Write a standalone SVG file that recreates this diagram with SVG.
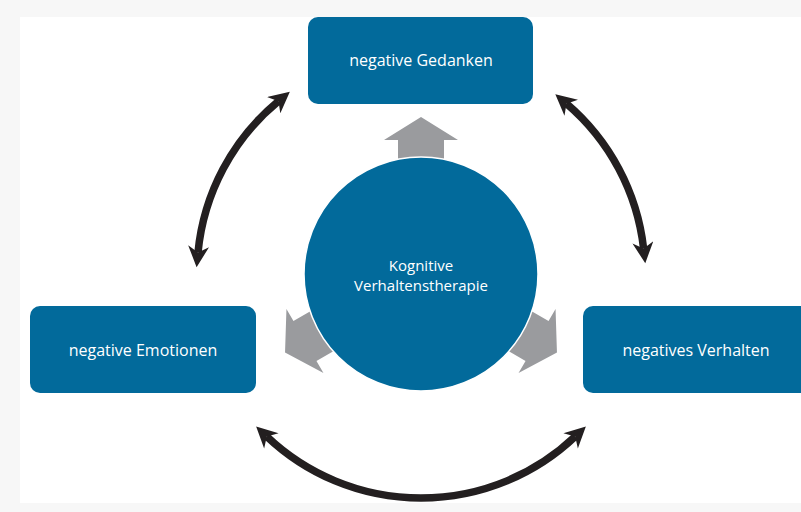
<svg xmlns="http://www.w3.org/2000/svg" width="801" height="512" viewBox="0 0 801 512">
<style>
.box{fill:#026a9b}
.lbl{font-family:"Open Sans","Noto Sans","Liberation Sans",sans-serif;font-size:16px;fill:#ffffff;text-anchor:middle}
.lbl2{font-family:"Open Sans","Noto Sans","Liberation Sans",sans-serif;font-size:15px;fill:#ffffff;text-anchor:middle}
.gray{fill:#9a9b9e}
.conn{fill:none;stroke:#231f20;stroke-width:7.5}
</style>
<defs>
<marker id="ah" viewBox="0 0 10 10" refX="3" refY="5" markerWidth="22" markerHeight="21" markerUnits="userSpaceOnUse" orient="auto-start-reverse">
<polygon points="0,0 10,5 0,10 3,5" fill="#231f20"/>
</marker>
<polygon id="garrow" points="0,-157 37,-134 23,-134 23,-105 -23,-105 -23,-134 -37,-134"/>
</defs>
<rect x="0" y="0" width="801" height="512" fill="#f7f7f7"/>
<rect x="20" y="17" width="781" height="486" fill="#ffffff"/>
<g id="connectors">
<path class="conn" d="M198,252.5 A224,224 0 0 1 278.5,101.2" marker-start="url(#ah)" marker-end="url(#ah)"/>
<path class="conn" d="M566.5,103.7 A224,224 0 0 1 643.6,248.6" marker-start="url(#ah)" marker-end="url(#ah)"/>
<path class="conn" d="M575.2,436.5 A224,224 0 0 1 266.8,436.5" marker-start="url(#ah)" marker-end="url(#ah)"/>
<g class="gray" transform="translate(421,274)">
<use href="#garrow"/>
<use href="#garrow" transform="rotate(-120)"/>
<use href="#garrow" transform="rotate(120)"/>
</g>
</g>
<g id="gedanken">
<rect class="box" x="308" y="17" width="225" height="87" rx="10"/>
<text class="lbl" x="421" y="66">negative Gedanken</text>
</g>
<g id="emotionen">
<rect class="box" x="30" y="306" width="226" height="87" rx="10"/>
<text class="lbl" x="143" y="356">negative Emotionen</text>
</g>
<g id="verhalten">
<rect class="box" x="583" y="306" width="230" height="87" rx="10"/>
<text class="lbl" x="696" y="356">negatives Verhalten</text>
</g>
<g id="therapie">
<circle cx="421" cy="274" r="117" fill="#026a9b" stroke="#ffffff" stroke-width="1.5"/>
<text class="lbl2" x="421" y="271">Kognitive</text>
<text class="lbl2" x="421" y="291">Verhaltenstherapie</text>
</g>
</svg>
